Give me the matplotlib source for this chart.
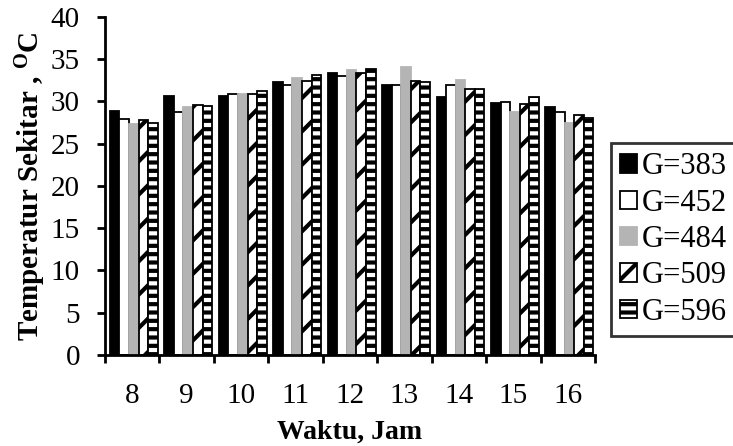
import matplotlib
matplotlib.use("Agg")
import matplotlib.pyplot as plt
import numpy as np

jam = ["8", "9", "10", "11", "12", "13", "14", "15", "16"]
g383 = [28.9, 30.7, 30.7, 32.3, 33.4, 31.9, 30.5, 29.8, 29.4]
g452 = [27.9, 28.8, 30.9, 31.9, 33.0, 31.9, 31.9, 29.9, 28.8]
g484 = [27.3, 29.3, 30.9, 32.8, 33.7, 34.1, 32.5, 28.8, 27.5]
g509 = [27.8, 29.6, 30.9, 32.4, 33.4, 32.4, 31.5, 29.7, 28.4]
g596 = [27.4, 29.5, 31.2, 33.1, 33.9, 32.3, 31.5, 30.5, 28.1]
labels = ["G=383", "G=452", "G=484", "G=509", "G=596"]

plt.rcParams["font.family"] = ["Liberation Serif", "DejaVu Serif"]
plt.rcParams["mathtext.default"] = "regular"
plt.rcParams["hatch.linewidth"] = 3.0
plt.rcParams["hatch.color"] = "black"

# fill, edge, hatch
STYLES = [
    ("black", "black", None),
    ("white", "black", None),
    ("#b4b4b4", "#b4b4b4", None),
    ("white", "black", "/"),
    ("white", "black", "--"),
]

fig = plt.figure(figsize=(7.33, 4.46), dpi=100)
ax = fig.add_axes([0.1432, 0.204, 0.6685, 0.758])

x = np.arange(len(jam))
width = 0.176
series = [g383, g452, g484, g509, g596]
for i, (vals, lab, (fc, ec, hatch)) in enumerate(zip(series, labels, STYLES)):
    off = (i - 2) * width + 0.03
    ax.bar(x + off, vals, width, color=fc, edgecolor=ec, linewidth=1.3,
           hatch=hatch, label=lab)

ax.set_xlim(-0.5, len(jam) - 0.5)
ax.set_ylim(0, 40)
ax.set_yticks(range(0, 41, 5))

# ticks at group boundaries, labels at centres
ax.set_xticks(np.arange(-0.5, len(jam), 1.0))
ax.set_xticklabels([])
ax.set_xticks(x, minor=True)
ax.set_xticklabels(jam, minor=True)
ax.tick_params(axis="x", which="minor", length=0, pad=20, labelsize=21)
ax.tick_params(axis="x", which="major", length=6, width=2, direction="out")
ax.tick_params(axis="y", length=6, width=2, direction="out", pad=12, labelsize=21)

for s in ["top", "right"]:
    ax.spines[s].set_visible(False)
for s in ["left", "bottom"]:
    ax.spines[s].set_linewidth(2)

ax.set_xlabel("Waktu, Jam", fontsize=20, fontweight="bold", labelpad=8)
ax.set_ylabel("Temperatur Sekitar , $^{O}$C", fontsize=21, fontweight="bold", labelpad=2)

leg = ax.legend(loc="upper left", bbox_to_anchor=(0.8336, 0.679),
                bbox_transform=fig.transFigure, fontsize=22, frameon=True,
                fancybox=False, edgecolor="black", handlelength=0.55,
                handleheight=0.55, handletextpad=0.15, labelspacing=0.24,
                borderpad=0.3, borderaxespad=0)
leg.get_frame().set_linewidth(2)

fig.savefig("out.png", dpi=100, facecolor="white")
